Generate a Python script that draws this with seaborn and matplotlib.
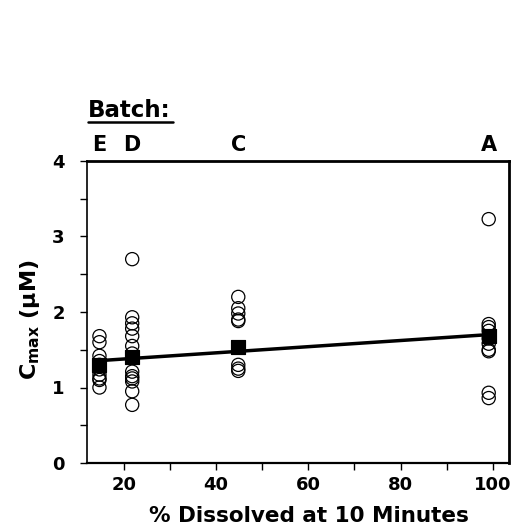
import numpy as np
import pandas as pd
import matplotlib
matplotlib.use("Agg")
import matplotlib.pyplot as plt
import seaborn as sns
from matplotlib.lines import Line2D
from matplotlib.ticker import MultipleLocator

sns.set_style("white")
plt.rcParams['font.family'] = ['DejaVu Sans']
plt.rcParams['font.weight'] = 'bold'
plt.rcParams['mathtext.fontset'] = 'custom'
plt.rcParams['mathtext.rm'] = 'DejaVu Sans:bold'
plt.rcParams['mathtext.default'] = 'rm'
for k in ['text.color', 'axes.labelcolor', 'xtick.color', 'ytick.color', 'axes.edgecolor']:
    plt.rcParams[k] = 'black'

# Data
batches = ["E", "D", "C", "A"]
dissolved = [14.7, 21.8, 44.8, 99.1]
cmax_E = [1.68, 1.60, 1.42, 1.35, 1.30, 1.24, 1.17, 1.12, 1.10, 1.00]
cmax_D = [2.70, 1.93, 1.85, 1.78, 1.68, 1.55, 1.45, 1.21, 1.15, 1.12, 1.08, 0.95, 0.77]
cmax_C = [2.20, 2.05, 1.98, 1.90, 1.88, 1.30, 1.25, 1.22]
cmax_A = [3.23, 1.84, 1.80, 1.75, 1.65, 1.58, 1.50, 1.48, 0.93, 0.86]
means = [1.30, 1.41, 1.53, 1.68]

rows = []
for b, x, vals in zip(batches, dissolved, [cmax_E, cmax_D, cmax_C, cmax_A]):
    for v in vals:
        rows.append({"batch": b, "dissolved": x, "cmax": v})
df = pd.DataFrame(rows)
dfm = pd.DataFrame({"batch": batches, "dissolved": dissolved, "cmax": means})

slope, intercept = np.polyfit(dissolved, means, 1)
dfl = pd.DataFrame({"dissolved": [min(dissolved), max(dissolved)]})
dfl["cmax"] = intercept + slope * dfl["dissolved"]

fig = plt.figure(figsize=(5.15, 5.31), dpi=100)
ax = fig.add_axes([87/515, 1 - 463/531, (509 - 87)/515, (463 - 161)/531])

sns.lineplot(data=dfl, x="dissolved", y="cmax", color="black", lw=2.5, ax=ax, zorder=2)
sns.scatterplot(data=df, x="dissolved", y="cmax", marker="o", s=90,
                facecolor="none", edgecolor="black", linewidth=0.9, ax=ax, zorder=3)
sns.scatterplot(data=dfm, x="dissolved", y="cmax", marker="s", s=110,
                color="black", edgecolor="black", ax=ax, zorder=4)

ax.set_xlim(12, 103.5)
ax.set_ylim(0, 4)
ax.xaxis.set_major_locator(MultipleLocator(20))
ax.xaxis.set_minor_locator(MultipleLocator(10))
ax.yaxis.set_major_locator(MultipleLocator(1))
ax.yaxis.set_minor_locator(MultipleLocator(0.5))
ax.tick_params(which="both", direction="out", length=5, width=1, color="black",
               bottom=True, left=True, top=False, right=False)
ax.tick_params(axis="x", which="major", labelsize=13, pad=4, labelcolor="black")
ax.tick_params(axis="y", which="major", labelsize=13, pad=11, labelcolor="black")
for lab in ax.get_xticklabels() + ax.get_yticklabels():
    lab.set_fontweight("bold")

for side, w in [("left", 1.2), ("bottom", 1.6), ("top", 2.0), ("right", 2.0)]:
    ax.spines[side].set_visible(True)
    ax.spines[side].set_color("black")
    ax.spines[side].set_linewidth(w)

ax.set_xlabel("% Dissolved at 10 Minutes", fontsize=15.5, fontweight="bold", color="black")
ax.set_ylabel(r"C$_{max}$ (μM)", fontsize=16, fontweight="bold", color="black")
ax.xaxis.set_label_coords(0.526, -0.142)
ax.yaxis.set_label_coords(-0.107, 0.475)

trans = ax.get_xaxis_transform()
for b, x in zip(batches, dissolved):
    ax.text(x, 1.02, b, transform=trans, ha="center", va="bottom",
            fontsize=15, fontweight="bold", color="black")

ax.text(12.2, 1.147, "Batch:", transform=trans, ha="left", va="baseline",
        fontsize=16.5, fontweight="bold", color="black")
fig.add_artist(Line2D([88/515, 173/515], [1 - 122/531, 1 - 122/531],
                      color="black", lw=1.8, transform=fig.transFigure))

fig.savefig("out.png", dpi=100)
